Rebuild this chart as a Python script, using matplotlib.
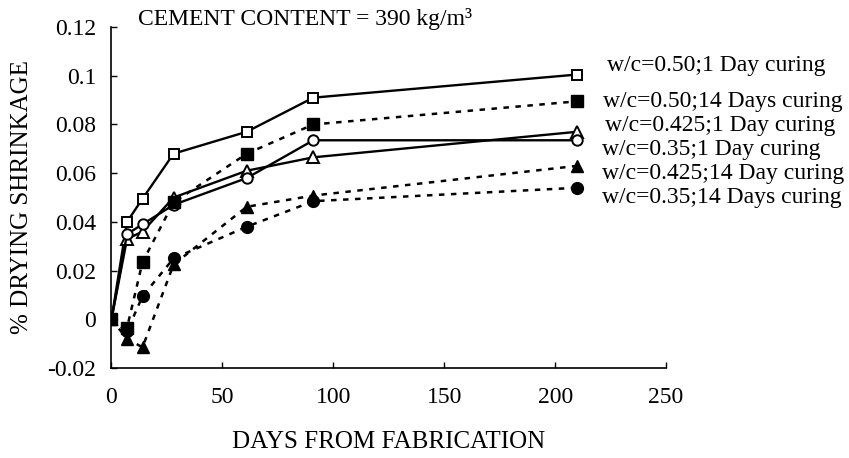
import matplotlib.pyplot as plt

plt.rcParams["font.family"] = ["Liberation Serif", "DejaVu Serif"]

days = [0, 7, 14, 28, 61, 91, 210]

wc050_1d = [0, 0.040, 0.0495, 0.068, 0.077, 0.091, 0.1005]
wc050_14d = [0, -0.0035, 0.0235, 0.048, 0.068, 0.080, 0.0895]
wc0425_1d = [0, 0.033, 0.036, 0.050, 0.061, 0.0665, 0.077]
wc035_1d = [0, 0.035, 0.039, 0.047, 0.058, 0.0735, 0.0735]
wc0425_14d = [0, -0.008, -0.0115, 0.0225, 0.0462, 0.0508, 0.063]
wc035_14d = [0, -0.005, 0.0095, 0.025, 0.038, 0.0485, 0.0540]

labels = [
    "w/c=0.50;1 Day curing",
    "w/c=0.50;14 Days curing",
    "w/c=0.425;1 Day curing",
    "w/c=0.35;1 Day curing",
    "w/c=0.425;14 Day curing",
    "w/c=0.35;14 Days curing",
]

fig = plt.figure(figsize=(8.49, 4.58), dpi=100)
ax = fig.add_axes([0.1313, 0.1965, 0.6532, 0.7445])

dotted = (0, (2.2, 2.6))
ms = 8.5

# solid lines, open markers (1 day curing)
ax.plot(days, wc050_1d, "-", color="black", lw=1.7, marker="s", ms=ms - 1,
        mfc="white", mec="black", mew=1.4, zorder=3)
ax.plot(days, wc0425_1d, "-", color="black", lw=1.7, marker="^", ms=ms,
        mfc="white", mec="black", mew=1.4, zorder=3)
ax.plot(days, wc035_1d, "-", color="black", lw=1.7, marker="o", ms=ms - 1,
        mfc="white", mec="black", mew=1.4, zorder=3)

# dotted lines, filled markers (14 days curing)
ax.plot(days, wc050_14d, linestyle=dotted, color="black", lw=1.8, marker="s",
        ms=ms, mfc="black", mec="black", zorder=4)
ax.plot(days, wc0425_14d, linestyle=dotted, color="black", lw=1.8, marker="^",
        ms=ms, mfc="black", mec="black", zorder=4)
ax.plot(days, wc035_14d, linestyle=dotted, color="black", lw=1.8, marker="o",
        ms=ms, mfc="black", mec="black", zorder=4)

ax.set_xlim(0, 250)
ax.set_ylim(-0.02, 0.12)
ax.set_xticks([0, 50, 100, 150, 200, 250])
ax.set_yticks([-0.02, 0, 0.02, 0.04, 0.06, 0.08, 0.1, 0.12])
ax.set_yticklabels(["-0.02", "0", "0.02", "0.04", "0.06", "0.08", "0.1", "0.12"])
ax.tick_params(direction="in", length=4, width=1, labelsize=17, pad=11)
ax.tick_params(axis="x", pad=14)

for side in ["top", "right"]:
    ax.spines[side].set_visible(False)
for side in ["left", "bottom"]:
    ax.spines[side].set_linewidth(1.2)

ax.set_xlabel("DAYS FROM FABRICATION", fontsize=18, labelpad=16)
ax.set_ylabel("% DRYING SHRINKAGE", fontsize=18, labelpad=10)

fig.text(0.162, 0.958, "CEMENT CONTENT = 390 kg/m³", fontsize=17, va="center")

label_y = [65, 101, 126, 150, 174, 198]
label_x = [607, 603, 605, 602, 602, 602]
for lab, lx, ly in zip(labels, label_x, label_y):
    fig.text(lx / 849, 1 - ly / 458, lab, fontsize=17, va="center")

fig.savefig("out.png", dpi=100)
